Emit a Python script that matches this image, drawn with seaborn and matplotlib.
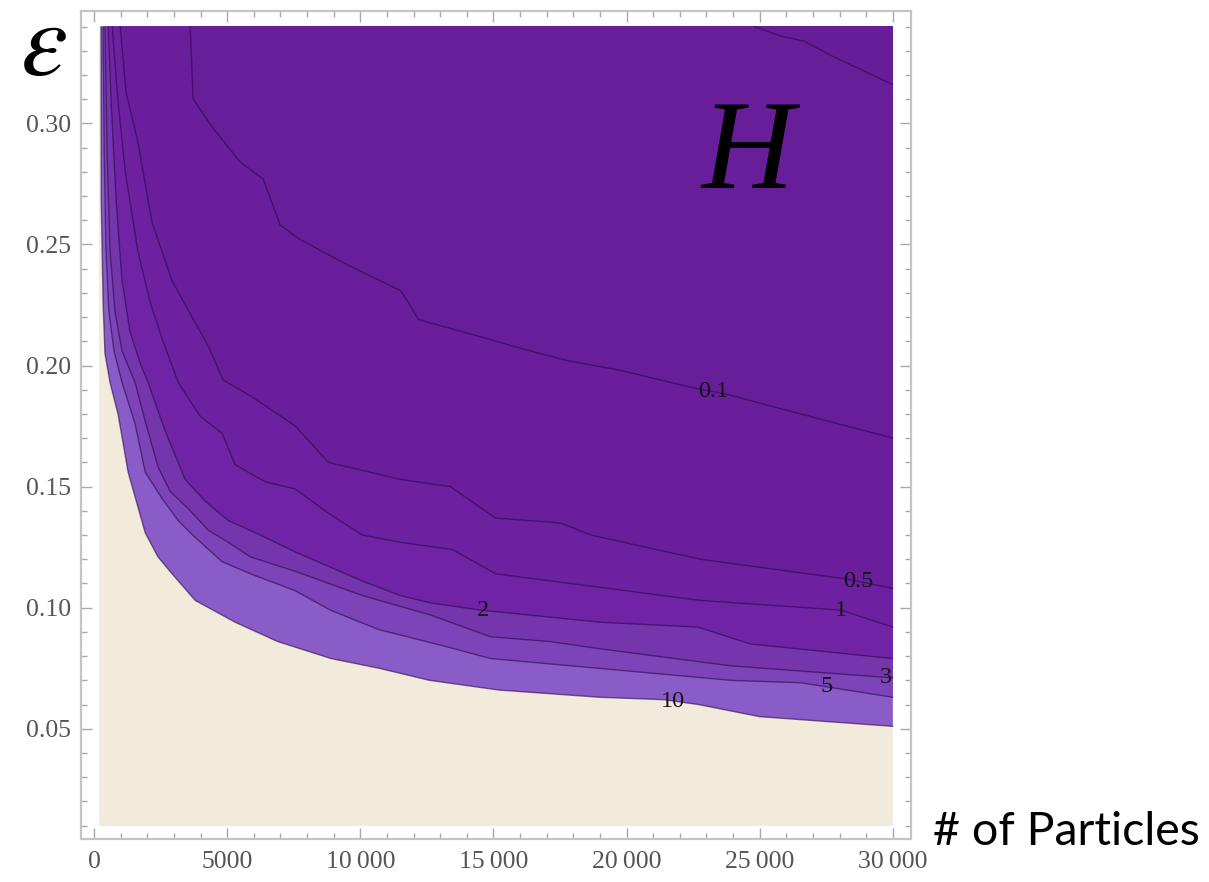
import numpy as np
import pandas as pd
import matplotlib
matplotlib.use("Agg")
import matplotlib.pyplot as plt
import seaborn as sns
from matplotlib.ticker import FixedLocator, MultipleLocator

# ---------------- data ----------------
N_MIN, N_MAX = 200, 30000
EPS_MIN, EPS_MAX = 0.01, 0.34

contour_levels = ["10", "5", "3", "2", "1", "0.5", "0.1", "0.05"]

n_10 = [260, 270, 340, 410, 600, 900, 1280, 1920, 2400, 2930, 3800, 5300, 6900, 8900,
        10700, 12600, 15200, 19000, 21400, 22700, 25000, 30000]
eps_10 = [0.340, 0.268, 0.226, 0.205, 0.193, 0.180, 0.156, 0.131, 0.121, 0.114, 0.103, 0.094,
          0.086, 0.079, 0.075, 0.070, 0.066, 0.063, 0.062, 0.060, 0.055, 0.051]

n_5 = [340, 380, 450, 560, 750, 1050, 1540, 1920, 2560, 3160, 3800, 4810, 5870, 7560,
       8870, 10680, 13200, 14890, 18910, 23910, 26540, 30000]
eps_5 = [0.340, 0.288, 0.247, 0.222, 0.206, 0.193, 0.176, 0.156, 0.145, 0.136, 0.129,
         0.119, 0.114, 0.107, 0.099, 0.091, 0.084, 0.079, 0.075, 0.070, 0.069, 0.063]

n_3 = [410, 490, 600, 790, 1050, 1540, 1920, 2410, 2860, 3530, 4290, 5040, 5870, 7560,
       10080, 12630, 14890, 17140, 19020, 23910, 30000]
eps_3 = [0.340, 0.288, 0.247, 0.222, 0.206, 0.193, 0.177, 0.158, 0.148, 0.141, 0.132,
         0.127, 0.121, 0.115, 0.105, 0.097, 0.088, 0.086, 0.083, 0.076, 0.071]

n_2 = [530, 640, 830, 1050, 1350, 1730, 2030, 2670, 3420, 4170, 5040, 6240, 7560,
       10080, 11500, 12630, 14510, 19020, 22670, 24660, 30000]
eps_2 = [0.340, 0.309, 0.268, 0.235, 0.214, 0.201, 0.193, 0.173, 0.153, 0.144, 0.136,
         0.130, 0.123, 0.111, 0.105, 0.102, 0.099, 0.094, 0.092, 0.085, 0.079]

n_1 = [680, 900, 1170, 1650, 2110, 2590, 3160, 3990, 4810, 5300, 6430, 7560, 8800,
       10080, 11500, 13460, 15080, 22780, 28050, 30000]
eps_1 = [0.340, 0.309, 0.280, 0.247, 0.226, 0.210, 0.193, 0.179, 0.172, 0.159, 0.152,
         0.149, 0.139, 0.130, 0.127, 0.124, 0.114, 0.103, 0.099, 0.092]

n_05 = [980, 1200, 1650, 2180, 2930, 3680, 4290, 4850, 5940, 7560, 8800, 11500, 13380,
        15080, 17520, 18650, 22780, 28160, 30000]
eps_05 = [0.340, 0.313, 0.292, 0.259, 0.235, 0.220, 0.208, 0.194, 0.187, 0.175, 0.160,
          0.153, 0.150, 0.137, 0.135, 0.130, 0.120, 0.112, 0.108]

n_01 = [3610, 3720, 4470, 5490, 6350, 6990, 7740, 9620, 11500, 11810, 12180, 14140,
        16390, 17780, 19770, 22410, 23800, 26540, 30000]
eps_01 = [0.340, 0.310, 0.298, 0.284, 0.277, 0.258, 0.252, 0.241, 0.231, 0.226, 0.219,
          0.213, 0.206, 0.202, 0.198, 0.191, 0.188, 0.180, 0.170]

n_005 = [24800, 25790, 26660, 27680, 30000]
eps_005 = [0.340, 0.336, 0.334, 0.328, 0.316]

contour_n = [n_10, n_5, n_3, n_2, n_1, n_05, n_01, n_005]
contour_eps = [eps_10, eps_5, eps_3, eps_2, eps_1, eps_05, eps_01, eps_005]

# where along each labelled contour the label sits (N value)
label_at = {"0.1": 23250, "0.5": 28700, "1": 28050, "2": 14590, "3": 29750,
            "5": 27500, "10": 21750}

x_ticks = [0, 5000, 10000, 15000, 20000, 25000, 30000]
x_tick_labels = ["0", "5000", "10\u2009000", "15\u2009000", "20\u2009000",
                 "25\u2009000", "30\u2009000"]
y_ticks = [0.05, 0.10, 0.15, 0.20, 0.25, 0.30]
y_tick_labels = ["0.05", "0.10", "0.15", "0.20", "0.25", "0.30"]

# ---------------- style ----------------
beige = "#F2EADB"
band_colors = ["#8A5CC8", "#7D43B8", "#7535AD", "#7024A5", "#6D20A0",
               "#6A1E9C", "#681D99", "#671C98"]
line_color = "#2A0A48"
tick_gray = "#A8A8A8"
label_gray = "#555555"

sns.set_theme(style="ticks")
plt.rcParams["font.family"] = ["Liberation Serif", "DejaVu Serif"]

fig = plt.figure(figsize=(12.09, 8.82), dpi=100)
fig.patch.set_facecolor("white")
ax = fig.add_axes([0.067, 0.0488, 0.6865, 0.939])
ax.set_facecolor("white")

# base region (H above the highest level)
ax.fill_between([N_MIN, N_MAX], [EPS_MIN, EPS_MIN], [EPS_MAX, EPS_MAX],
                color=beige, lw=0, zorder=1)

# filled bands: region above/right of each contour
for n, e, c in zip(contour_n, contour_eps, band_colors):
    ax.fill(list(n) + [N_MAX], list(e) + [EPS_MAX], color=c, lw=0, zorder=2)

# contour lines
for lev, n, e in zip(contour_levels, contour_n, contour_eps):
    df = pd.DataFrame({"N": n, "eps": e})
    sns.lineplot(data=df, x="N", y="eps", ax=ax, sort=False, estimator=None,
                 color=line_color, lw=1.0, alpha=0.6, zorder=3)

# contour labels
for lev, n, e in zip(contour_levels, contour_n, contour_eps):
    if lev in label_at:
        xl = label_at[lev]
        yl = np.interp(xl, n, e)
        ax.text(xl, yl, lev, fontsize=17.5, color="#141414", ha="center",
                va="center", zorder=4)

ax.set_xlim(-490, 30680)
ax.set_ylim(0.0045, 0.3465)
ax.set_xlabel("")
ax.set_ylabel("")

ax.xaxis.set_major_locator(FixedLocator(x_ticks))
ax.set_xticklabels(x_tick_labels)
ax.xaxis.set_minor_locator(MultipleLocator(1000))
ax.yaxis.set_major_locator(FixedLocator(y_ticks))
ax.set_yticklabels(y_tick_labels)
ax.yaxis.set_minor_locator(FixedLocator([0.01 * k for k in range(1, 35)]))

ax.tick_params(which="both", direction="in", top=True, right=True,
               color=tick_gray, width=1.0)
ax.tick_params(which="major", length=8, labelsize=18.5, labelcolor=label_gray)
ax.tick_params(axis="x", which="major", pad=9)
ax.tick_params(axis="y", which="major", pad=7)
ax.tick_params(which="minor", length=4.5)
ax.tick_params(labeltop=False, labelright=False)

for s in ax.spines.values():
    s.set_color("#C4C4C4")
    s.set_linewidth(1.6)

# annotations
fig.text(43 / 1209, 1 - 75 / 882, r"$\varepsilon$", fontsize=76, ha="center",
         va="baseline", color="black", math_fontfamily="stix")
fig.text(748 / 1209, 1 - 188 / 882, "H", fontsize=92, ha="center", va="baseline",
         style="italic", color="black", family=["Liberation Serif", "DejaVu Serif"])
fig.text(933 / 1209, 1 - 845 / 882, "# of Particles", fontsize=33.5, ha="left",
         va="baseline", color="black", family=["Lato", "DejaVu Sans"])

fig.savefig("out.png", dpi=100, facecolor="white")
